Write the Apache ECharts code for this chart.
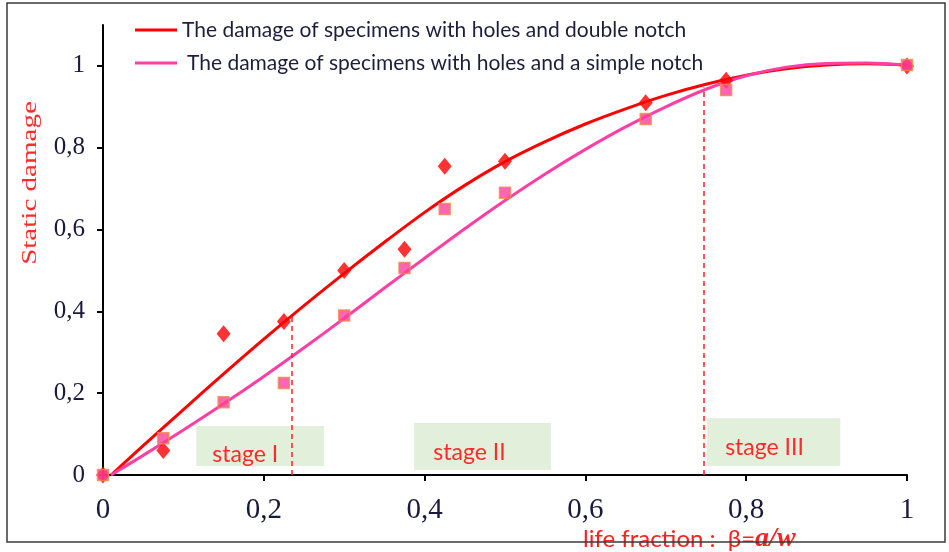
<!DOCTYPE html>
<html>
<head>
<meta charset="utf-8">
<script src="https://cdn.jsdelivr.net/npm/echarts@6/dist/echarts.min.js"></script>
<style>
  html, body { margin: 0; padding: 0; background: #fff; }
  #chart { width: 949px; height: 552px; }
</style>
</head>
<body>
<div id="chart"></div>
<script>
// Measured damage points, life fraction β = a/w versus static damage
const doubleNotchPoints = [
  [0, 0], [0.075, 0.06], [0.15, 0.345], [0.225, 0.375], [0.3, 0.5],
  [0.375, 0.552], [0.425, 0.755], [0.5, 0.767], [0.675, 0.91],
  [0.775, 0.965], [1, 1]
];
const simpleNotchPoints = [
  [0, 0], [0.075, 0.09], [0.15, 0.178], [0.225, 0.225], [0.3, 0.39],
  [0.375, 0.506], [0.425, 0.65], [0.5, 0.69], [0.675, 0.87],
  [0.775, 0.941], [1, 1.002]
];

// Fitted trend curves
const doubleNotchCurve = [
  [0.01, 0], [0.05, 0.072], [0.1, 0.16], [0.15, 0.247], [0.2, 0.332],
  [0.25, 0.414], [0.3, 0.493], [0.35, 0.569], [0.4, 0.642], [0.45, 0.708],
  [0.5, 0.766], [0.55, 0.815], [0.6, 0.858], [0.65, 0.895], [0.7, 0.928],
  [0.75, 0.955], [0.8, 0.977], [0.85, 0.993], [0.9, 1.002], [0.95, 1.005],
  [1, 1.002]
];
const simpleNotchCurve = [
  [0.01, 0], [0.05, 0.048], [0.1, 0.11], [0.15, 0.174], [0.2, 0.241],
  [0.25, 0.311], [0.3, 0.383], [0.35, 0.457], [0.4, 0.53], [0.45, 0.602],
  [0.5, 0.671], [0.55, 0.736], [0.6, 0.796], [0.65, 0.851], [0.7, 0.9],
  [0.75, 0.943], [0.8, 0.976], [0.85, 0.997], [0.9, 1.006], [0.95, 1.007],
  [1, 1.002]
];

const seriesNames = [
  'The damage of specimens with holes and double notch',
  'The damage of specimens with holes and a simple notch'
];

// Stage zones: [name, xFrom, xTo, yFrom, yTo, label offset]
const stages = [
  ['stage I',   0.116, 0.275, 0.022, 0.120, [-15, 9]],
  ['stage II',  0.387, 0.557, 0.012, 0.127, [-13, 6]],
  ['stage III', 0.751, 0.917, 0.022, 0.139, [-9, 6]]
];

// Stage boundaries drawn as dashed verticals up to the curve
const stageBounds = [[0.2345, 0.39], [0.7475, 0.947]];

const yTickValues = [0, 0.2, 0.4, 0.6, 0.8, 1];

const RED = '#ff0000';
const PINK = '#ff3fa4';
const SANS = "Lato, 'Liberation Sans', sans-serif";
const SERIF = "'Liberation Serif', 'DejaVu Serif', serif";

const fmt = v => (v > 1.0001 ? '' : String(+v.toFixed(2)).replace('.', ','));

const chart = echarts.init(document.getElementById('chart'), null, { renderer: 'canvas' });

chart.setOption({
  animation: false,
  backgroundColor: '#fff',
  grid: { left: 103, right: 42, top: 25, bottom: 77 },
  legend: {
    orient: 'vertical',
    left: 130,
    top: 13,
    itemWidth: 42,
    itemHeight: 3,
    itemGap: 9,
    textStyle: { fontFamily: SANS, fontSize: 21, color: '#1e1e3c', lineHeight: 24 },
    data: [
      { name: seriesNames[0], icon: 'rect' },
      { name: seriesNames[1], icon: 'rect', textStyle: { padding: [0, 0, 0, 5] } }
    ]
  },
  xAxis: {
    type: 'value',
    min: 0,
    max: 1,
    interval: 0.2,
    splitLine: { show: false },
    axisLine: { lineStyle: { color: '#000', width: 2 } },
    axisTick: { show: true, length: 6, lineStyle: { color: '#000', width: 2 } },
    axisLabel: {
      margin: 21,
      fontFamily: SERIF,
      fontSize: 29,
      color: '#1a1a3c',
      formatter: fmt
    }
  },
  yAxis: {
    type: 'value',
    min: 0,
    max: 1.1,
    interval: 0.2,
    splitLine: { show: false },
    axisLine: { show: true, lineStyle: { color: '#000', width: 2 } },
    axisTick: {
      show: true, length: 6, customValues: yTickValues,
      lineStyle: { color: '#000', width: 2 }
    },
    axisLabel: {
      margin: 18,
      fontFamily: SERIF,
      fontSize: 25,
      color: '#1a1a3c',
      customValues: yTickValues,
      formatter: fmt
    }
  },
  graphic: [
    {
      type: 'rect',
      shape: { x: 7, y: 3, width: 938, height: 539 },
      style: { fill: 'none', stroke: '#3a3a3a', lineWidth: 1.5 },
      silent: true,
      z: 100
    },
    {
      type: 'text',
      x: 30,
      y: 183,
      rotation: Math.PI / 2,
      scaleX: 1.32,
      style: {
        text: 'Static damage',
        font: '22px ' + SERIF,
        fill: '#ff2a2a',
        align: 'center',
        verticalAlign: 'middle'
      }
    },
    {
      type: 'text',
      x: 583,
      y: 539,
      style: {
        text: '{t|life fraction :  β=}{m|a/w}',
        verticalAlign: 'middle',
        fill: '#ff2020',
        rich: {
          t: { fontFamily: SANS, fontSize: 24, fill: '#ff2020' },
          m: { fontFamily: SERIF, fontSize: 28, fontStyle: 'italic', fontWeight: 'bold', fill: '#ff2020' }
        }
      }
    }
  ],
  series: [
    {
      name: seriesNames[0],
      type: 'line',
      data: doubleNotchCurve,
      smooth: 0.3,
      symbol: 'none',
      lineStyle: { color: RED, width: 3 },
      itemStyle: { color: RED },
      z: 3,
      markArea: {
        silent: true,
        itemStyle: { color: '#e2efda' },
        label: {
          show: true,
          position: 'inside',
          color: '#ff2a2a',
          fontFamily: SANS,
          fontSize: 23
        },
        data: stages.map(s => [
          { name: s[0], xAxis: s[1], yAxis: s[4], label: { offset: s[5] } },
          { xAxis: s[2], yAxis: s[3] }
        ])
      },
      markLine: {
        silent: true,
        symbol: 'none',
        label: { show: false },
        lineStyle: { color: '#ff2020', width: 1.5, type: [5, 4] },
        data: stageBounds.map(b => [
          { coord: [b[0], 0] },
          { coord: [b[0], b[1]] }
        ])
      }
    },
    {
      name: seriesNames[1],
      type: 'line',
      data: simpleNotchCurve,
      smooth: 0.3,
      symbol: 'none',
      lineStyle: { color: PINK, width: 3 },
      itemStyle: { color: PINK },
      z: 3
    },
    {
      name: 'double notch points',
      type: 'scatter',
      data: doubleNotchPoints,
      symbol: 'diamond',
      symbolSize: [14, 17],
      itemStyle: { color: RED },
      z: 4
    },
    {
      name: 'simple notch points',
      type: 'scatter',
      data: simpleNotchPoints,
      symbol: 'rect',
      symbolSize: 11,
      itemStyle: { color: '#ff3f9c', borderColor: '#f08a44', borderWidth: 1.5 },
      z: 5
    }
  ]
});
</script>
</body>
</html>
